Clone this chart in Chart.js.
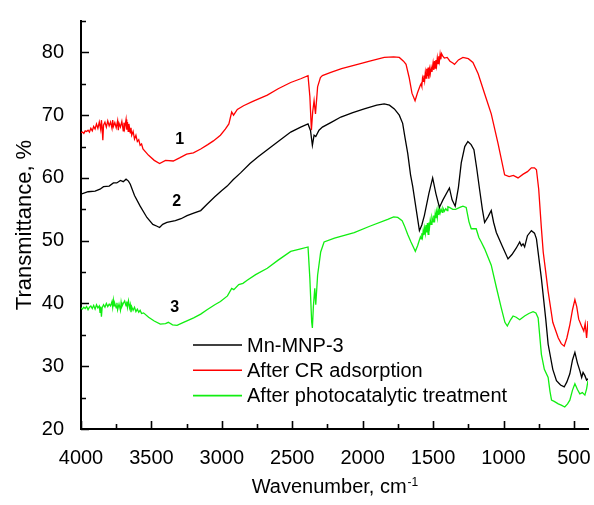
<!DOCTYPE html>
<html><head><meta charset="utf-8">
<script src="https://cdn.jsdelivr.net/npm/chart.js@4.4.1/dist/chart.umd.min.js"></script>
<style>html,body{margin:0;padding:0;background:#fff}</style>
</head><body>
<canvas id="c" width="594" height="505"></canvas>
<script>
// ---------- DATA ----------
const seriesNames = ['Mn-MNP-3', 'After CR adsorption', 'After photocatalytic treatment'];
const curveLabels = ['1', '2', '3'];
const curveLabelWn = [3300, 3320, 3334];
const curveLabelT = [66.1, 56.3, 39.4];

const xTickValues = [500,750,1000,1250,1500,1750,2000,2250,2500,2750,3000,3250,3500,3750,4000];
const xLabelValues = [500,1000,1500,2000,2500,3000,3500,4000];
const yTickValues = [20,25,30,35,40,45,50,55,60,65,70,75,80,85];
const yLabelValues = [20,30,40,50,60,70,80];

// Series (red): After CR adsorption
const redWn = [
 4000,3990,3980,3970,3960,3950,3940,3930,3920,3910,
 3900,3890,3880,3870,3860,3855,3850,3845,3840,3830,
 3820,3810,3800,3790,3780,3775,3770,3760,3750,3740,
 3735,3730,3720,3710,3700,3695,3690,3680,3675,3670,
 3665,3660,3650,3645,3640,3630,3620,3610,3600,3590,
 3580,3570,3560,3520,3480,3442,3400,3345,3300,3250,
 3202,3150,3100,3060,3010,2974,2950,2930,2917,2890,
 2846,2780,2677,2600,2511,2440,2388,2375,2364,2355,
 2345,2335,2320,2300,2286,2226,2150,2036,1950,1847,
 1780,1740,1710,1692,1670,1650,1628,1610,1600,1590,
 1585,1580,1575,1570,1565,1560,1555,1550,1545,1540,
 1535,1530,1525,1520,1514,1508,1500,1495,1490,1485,
 1480,1475,1470,1465,1460,1455,1450,1445,1440,1431,
 1420,1400,1380,1360,1348,1320,1288,1250,1217,1180,
 1134,1087,1039,992,960,930,897,860,830,802,
 780,766,750,731,718,700,683,650,611,590,
 569,550,529,510,493,480,466,446,430,420,
 410,400];
const redT = [
 67.2,67.3,67.1,67.5,67.4,67.6,67.3,67.9,67.5,68.2,
 67.8,68.6,67.9,68.9,67.7,69.2,68.0,66.0,68.4,68.9,
 68.1,69.1,68.3,68.9,67.9,69.2,68.2,68.8,68.0,69.1,
 67.6,68.7,68.1,69.0,67.5,68.8,67.9,69.3,67.7,68.9,
 67.4,68.6,67.2,68.0,66.8,67.4,66.2,66.8,65.8,66.1,
 65.2,65.4,64.6,63.6,62.8,62.3,62.8,62.7,63.2,63.8,
 64.0,64.6,65.3,65.9,66.8,67.8,68.6,70.5,70.0,70.9,
 71.5,72.2,73.2,74.2,75.2,75.8,76.3,73.0,67.6,70.5,
 72.3,70.2,74.5,76.0,76.3,76.8,77.4,78.1,78.6,79.2,
 79.3,79.2,78.6,78.1,76.0,73.5,72.3,73.6,74.2,74.8,
 75.0,74.6,75.9,75.4,76.3,75.5,76.8,75.9,77.4,76.2,
 77.6,75.8,77.3,76.6,77.6,76.9,78.3,77.2,78.6,77.5,
 78.8,77.9,79.1,78.2,79.4,78.6,79.7,78.9,79.8,79.4,
 79.1,79.2,78.6,78.3,78.1,78.8,79.2,79.0,78.4,76.6,
 73.4,70.2,65.5,60.5,60.2,60.4,60.0,60.6,61.0,61.6,
 61.6,61.3,58.2,52.0,48.2,45.0,41.9,37.0,34.5,33.6,
 33.2,34.5,36.6,39.0,40.6,39.5,37.5,36.4,35.6,36.8,
 34.5,37.2];

// Series (black): Mn-MNP-3
const blackWn = [
 4000,3950,3900,3865,3840,3800,3770,3746,3720,3700,
 3680,3663,3650,3620,3580,3532,3490,3460,3442,3420,
 3390,3330,3290,3247,3200,3150,3105,3050,3000,2962,
 2920,2867,2800,2740,2677,2600,2511,2440,2388,2370,
 2357,2345,2333,2310,2286,2220,2155,2070,1989,1900,
 1847,1810,1775,1740,1716,1700,1680,1660,1645,1620,
 1597,1580,1562,1530,1503,1480,1455,1430,1384,1365,
 1343,1320,1300,1275,1253,1230,1210,1190,1170,1150,
 1134,1110,1087,1070,1051,1010,968,940,910,885,
 873,861,850,830,802,780,766,731,700,683,
 650,624,595,569,550,529,510,493,475,458,
 445,435,422,410,400];
const blackT = [
 57.4,57.8,57.9,58.2,58.6,58.7,59.2,59.2,59.6,59.4,
 59.8,59.5,59.0,57.2,55.5,53.7,52.6,52.3,52.1,52.6,
 52.9,53.2,53.5,54.0,54.4,54.8,55.8,57.0,58.0,58.7,
 59.7,60.8,62.3,63.4,64.5,65.8,67.3,68.1,68.6,67.5,
 65.2,66.8,66.6,67.6,68.1,68.9,69.7,70.4,71.0,71.6,
 71.8,71.6,71.0,70.0,68.7,66.5,63.9,60.5,58.7,55.0,
 51.6,52.5,54.0,57.5,60.0,57.5,55.3,56.5,58.4,56.5,
 55.5,58.5,62.4,65.0,65.8,65.3,64.5,61.5,58.2,55.0,
 52.9,53.8,54.8,52.9,51.3,49.2,47.1,47.8,48.8,49.8,
 49.2,49.5,49.0,50.8,51.6,51.2,50.3,44.0,37.5,33.5,
 29.5,27.7,27.0,26.7,27.5,28.8,31.0,32.2,30.5,29.3,
 28.2,29.0,28.5,27.8,28.0];

// Series (green): After photocatalytic treatment
const greenWn = [
 4000,3990,3980,3970,3960,3950,3940,3930,3920,3910,
 3900,3890,3880,3870,3865,3860,3855,3850,3840,3830,
 3820,3810,3800,3790,3780,3775,3770,3765,3760,3750,
 3745,3740,3730,3720,3715,3710,3700,3690,3680,3675,
 3670,3663,3655,3650,3645,3640,3630,3620,3610,3600,
 3590,3580,3570,3556,3520,3480,3437,3400,3380,3350,
 3318,3280,3240,3200,3150,3105,3050,3010,2960,2930,
 2915,2880,2850,2820,2760,2677,2600,2511,2440,2388,
 2375,2362,2357,2350,2340,2333,2320,2298,2274,2200,
 2060,1950,1822,1780,1751,1720,1704,1680,1657,1626,
 1610,1600,1590,1585,1580,1575,1570,1565,1560,1555,
 1550,1545,1540,1535,1530,1525,1520,1514,1508,1500,
 1495,1490,1485,1480,1475,1470,1465,1460,1455,1450,
 1443,1435,1430,1420,1410,1400,1395,1384,1360,1340,
 1310,1288,1265,1245,1229,1210,1194,1175,1158,1134,
 1087,1050,1016,990,973,950,932,910,885,850,
 820,790,770,754,731,710,683,670,659,640,
 611,590,565,545,529,510,493,475,458,440,
 422,410,400];
const greenT = [
 39.3,39.1,39.4,39.2,39.5,39.0,39.4,39.6,39.2,39.7,
 39.1,39.8,39.3,39.6,38.6,39.5,37.9,39.3,39.8,39.4,
 40.0,39.5,39.9,39.6,40.3,39.4,40.5,39.6,40.0,39.3,
 40.1,39.0,39.9,38.9,40.2,39.5,40.0,40.4,39.6,40.3,
 39.4,40.4,39.3,39.8,38.6,39.5,38.9,39.4,38.7,39.1,
 38.6,38.9,38.4,38.5,37.8,37.2,36.7,36.8,37.0,36.6,
 36.5,36.9,37.3,37.7,38.3,39.0,39.8,40.3,41.2,42.4,
 42.2,43.0,43.2,43.7,44.6,45.6,46.9,48.3,48.7,49.0,
 44.0,37.0,36.1,39.5,42.4,39.8,44.5,48.2,49.8,50.4,
 51.3,52.3,53.4,53.8,53.7,53.2,52.4,51.0,49.8,48.3,
 49.2,49.9,50.6,50.3,51.2,50.6,51.6,50.9,52.0,51.2,
 52.5,51.3,52.8,51.0,52.9,52.2,53.3,52.6,53.7,53.0,
 54.0,52.9,54.3,53.6,54.6,53.7,54.9,54.1,55.1,54.4,
 55.0,54.5,55.2,54.7,55.1,54.8,55.4,55.3,55.0,55.0,
 55.3,55.5,55.3,53.0,51.9,51.9,51.9,50.5,49.8,48.7,
 46.1,42.5,39.3,37.0,36.4,37.4,38.0,37.8,37.4,38.0,
 38.4,38.7,38.5,37.7,31.9,29.5,28.2,26.0,24.6,24.4,
 24.0,23.8,23.5,24.0,24.6,26.2,27.2,26.3,25.6,25.8,
 25.4,26.4,27.7];

// ---------- CHART ----------
const FONT = "'Liberation Sans', Arial, sans-serif";
const toPts = (wn, t) => wn.map((w, i) => ({x: w, y: t[i]}));

const inwardTicks = {
  id: 'inwardTicks',
  afterDraw(chart) {
    const ctx = chart.ctx, xs = chart.scales.x, ys = chart.scales.y;
    const ca = chart.chartArea;
    ctx.save();
    ctx.strokeStyle = '#000';
    ctx.lineWidth = 1.6;
    ctx.beginPath();
    xTickValues.forEach(v => {
      const px = Math.round(xs.getPixelForValue(v)) + 0.5;
      const len = xLabelValues.includes(v) ? 8 : 5;
      ctx.moveTo(px, ca.bottom); ctx.lineTo(px, ca.bottom - len);
    });
    yTickValues.forEach(v => {
      const py = Math.round(ys.getPixelForValue(v)) + 0.5;
      const len = yLabelValues.includes(v) ? 8 : 5;
      ctx.moveTo(ca.left, py); ctx.lineTo(ca.left + len, py);
    });
    ctx.stroke();
    ctx.restore();
  }
};

const annotations = {
  id: 'annotations',
  afterDraw(chart) {
    const ctx = chart.ctx, xs = chart.scales.x, ys = chart.scales.y;
    const ca = chart.chartArea;
    ctx.save();
    ctx.fillStyle = '#000';
    ctx.font = 'bold 16px ' + FONT;
    ctx.textAlign = 'center';
    ctx.textBaseline = 'middle';
    curveLabels.forEach((t, i) => {
      ctx.fillText(t, xs.getPixelForValue(curveLabelWn[i]), ys.getPixelForValue(curveLabelT[i]));
    });
    // legend
    ctx.font = '20px ' + FONT;
    ctx.textAlign = 'left';
    const lx0 = 193, lx1 = 242, tx = 247, ly0 = 345, dy = 25.3;
    chart.data.datasets.forEach((ds, i) => {
      const y = ly0 + i * dy;
      ctx.strokeStyle = ds.borderColor;
      ctx.lineWidth = 1.6;
      ctx.beginPath(); ctx.moveTo(lx0, y); ctx.lineTo(lx1, y); ctx.stroke();
      ctx.fillStyle = '#000';
      ctx.fillText(ds.label, tx, y + 1);
    });
    // x axis title with superscript
    const main = 'Wavenumber, cm', sup = '-1';
    ctx.font = '20px ' + FONT;
    const wMain = ctx.measureText(main).width;
    ctx.font = '12px ' + FONT;
    const wSup = ctx.measureText(sup).width;
    const cx = (ca.left + ca.right) / 2;
    const x0 = cx - (wMain + wSup) / 2;
    ctx.textBaseline = 'alphabetic';
    ctx.font = '20px ' + FONT;
    ctx.fillText(main, x0, 493);
    ctx.font = '12px ' + FONT;
    ctx.fillText(sup, x0 + wMain + 1, 486);
    ctx.restore();
  }
};

new Chart(document.getElementById('c'), {
  type: 'line',
  data: {
    datasets: [
      {label: seriesNames[0], data: toPts(blackWn, blackT), borderColor: '#000000'},
      {label: seriesNames[1], data: toPts(redWn, redT), borderColor: '#ff0000'},
      {label: seriesNames[2], data: toPts(greenWn, greenT), borderColor: '#11ee11'}
    ]
  },
  options: {
    responsive: false,
    animation: false,
    layout: {padding: {top: 17, right: 6, left: 0, bottom: 0}},
    elements: {point: {radius: 0}, line: {borderWidth: 1.3, tension: 0, fill: false}},
    plugins: {legend: {display: false}, tooltip: {enabled: false}},
    scales: {
      x: {
        type: 'linear', reverse: true, min: 400, max: 4000,
        afterBuildTicks: s => { s.ticks = xTickValues.map(v => ({value: v})); },
        afterFit: s => { s.height = 76; },
        ticks: {
          autoSkip: false, maxRotation: 0, padding: 9, color: '#000',
          font: {family: FONT, size: 20},
          callback: v => xLabelValues.includes(v) ? String(v) : ''
        },
        grid: {display: false},
        border: {display: true, color: '#000', width: 2}
      },
      y: {
        type: 'linear', min: 20, max: 85,
        afterBuildTicks: s => { s.ticks = yTickValues.map(v => ({value: v})); },
        afterFit: s => { s.width = 81; },
        ticks: {
          autoSkip: false, padding: 9, color: '#000',
          font: {family: FONT, size: 20},
          callback: v => yLabelValues.includes(v) ? String(v) : ''
        },
        grid: {display: false},
        border: {display: true, color: '#000', width: 2},
        title: {display: true, text: 'Transmittance, %', color: '#000',
                font: {family: FONT, size: 22}, padding: {top: 12, bottom: 0}}
      }
    }
  },
  plugins: [inwardTicks, annotations]
});
</script>
</body></html>
